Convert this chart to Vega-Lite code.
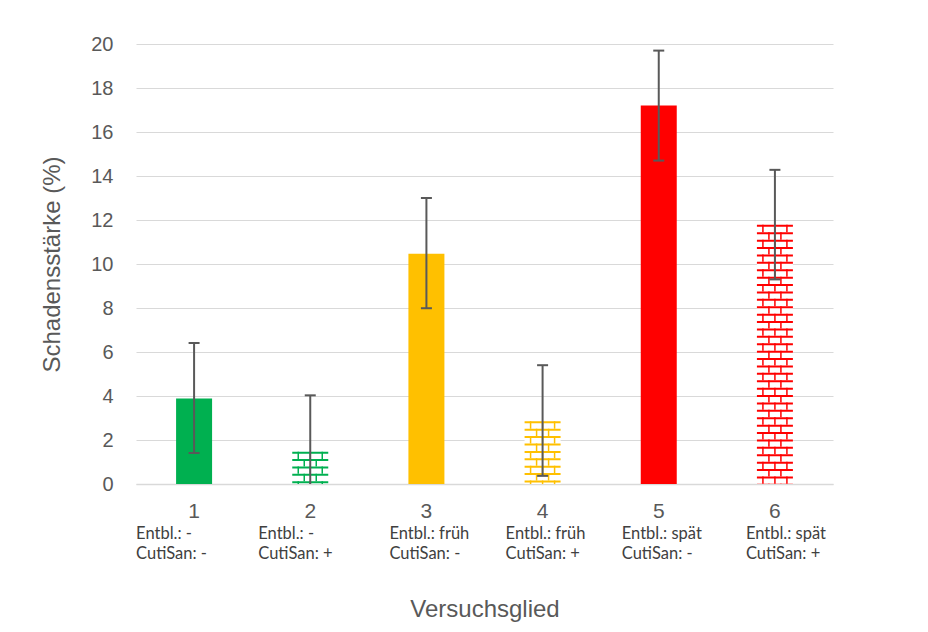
{
  "$schema": "https://vega.github.io/schema/vega-lite/v6.json",
  "width": 697,
  "height": 440,
  "autosize": {"type": "none"},
  "padding": {"left": 136, "top": 44, "right": 95, "bottom": 148},
  "background": "white",
  "config": {
    "view": {"stroke": null},
    "font": "Liberation Sans",
    "axisX": {"grid": false, "labelAngle": 0, "labelOverlap": false, "ticks": false, "tickSize": 0, "labelFlush": false},
    "axisY": {
      "domain": false, "ticks": false, "tickSize": 0, "values": [0, 2, 4, 6, 8, 10, 12, 14, 16, 18, 20],
      "labelFont": "Liberation Sans", "labelFontSize": 20, "labelColor": "#595959", "labelPadding": 23,
      "gridColor": "#d9d9d9", "gridWidth": 1.2,
      "titleFont": "Liberation Sans", "titleFontSize": 24, "titleFontWeight": "normal", "titleColor": "#595959", "titlePadding": 26
    },
    "range": {"category": ["#00B050", "#FFC000", "#FF0000"]}
  },
  "data": {"values": [
    {"nr": 1, "Entbl": "-", "CutiSan": "-", "wert": 3.89, "lo": 1.41, "hi": 6.41},
    {"nr": 2, "Entbl": "-", "CutiSan": "+", "wert": 1.47, "lo": -1.03, "hi": 4.03},
    {"nr": 3, "Entbl": "früh", "CutiSan": "-", "wert": 10.47, "lo": 7.99, "hi": 13.0},
    {"nr": 4, "Entbl": "früh", "CutiSan": "+", "wert": 2.85, "lo": 0.37, "hi": 5.4},
    {"nr": 5, "Entbl": "spät", "CutiSan": "-", "wert": 17.2, "lo": 14.7, "hi": 19.7},
    {"nr": 6, "Entbl": "spät", "CutiSan": "+", "wert": 11.78, "lo": 9.3, "hi": 14.28}
  ]},
  "transform": [
    {"calculate": "datum.nr + '|Entbl.: ' + datum.Entbl + '|CutiSan: ' + datum.CutiSan", "as": "gruppe"}
  ],
  "layer": [
    {
      "mark": {"type": "bar", "size": 36},
      "encoding": {
        "x": {"field": "gruppe", "type": "nominal", "sort": null, "title": null,
          "scale": {"paddingInner": 0, "paddingOuter": 0},
          "axis": {"orient": "bottom", "labelExpr": "split(datum.value, '|')[0]", "labelFont": "Liberation Sans", "labelFontSize": 21, "labelColor": "#595959", "labelPadding": 16, "labelBaseline": "top", "domainColor": "#d9d9d9", "domainWidth": 1.5}},
        "y": {"field": "wert", "type": "quantitative", "title": "Schadensstärke (%)", "scale": {"domain": [0, 20], "nice": false}},
        "fill": {"condition": {"test": "datum.CutiSan == '+'", "value": "white"}, "field": "Entbl", "type": "nominal",
          "scale": {"domain": ["-", "früh", "spät"], "range": ["#00B050", "#FFC000", "#FF0000"]}, "legend": null}
      }
    },
    {
      "transform": [{"filter": "datum.CutiSan == '+'"}],
      "mark": {"type": "rule", "strokeWidth": 36, "strokeDash": [2, 5.4], "strokeCap": "butt"},
      "encoding": {
        "x": {"field": "gruppe", "type": "nominal", "sort": null, "title": null, "axis": null},
        "y": {"field": "wert", "type": "quantitative", "title": "Schadensstärke (%)"},
        "y2": {"datum": 0},
        "color": {"field": "Entbl", "type": "nominal", "legend": null, "scale": {"domain": ["-", "früh", "spät"], "range": ["#00B050", "#FFC000", "#FF0000"]}}
      }
    },
    {
      "transform": [{"filter": "datum.CutiSan == '+'"}],
      "mark": {"type": "rule", "strokeWidth": 1.5, "strokeDash": [7.4, 7.4], "strokeCap": "butt", "xOffset": -12},
      "encoding": {
        "x": {"field": "gruppe", "type": "nominal", "sort": null, "title": null, "axis": null},
        "y": {"field": "wert", "type": "quantitative", "title": "Schadensstärke (%)"},
        "y2": {"datum": 0},
        "color": {"field": "Entbl", "type": "nominal", "legend": null, "scale": {"domain": ["-", "früh", "spät"], "range": ["#00B050", "#FFC000", "#FF0000"]}}
      }
    },
    {
      "transform": [{"filter": "datum.CutiSan == '+'"}],
      "mark": {"type": "rule", "strokeWidth": 1.5, "strokeDash": [7.4, 7.4], "strokeCap": "butt", "xOffset": 0},
      "encoding": {
        "x": {"field": "gruppe", "type": "nominal", "sort": null, "title": null, "axis": null},
        "y": {"field": "wert", "type": "quantitative", "title": "Schadensstärke (%)"},
        "y2": {"datum": 0},
        "color": {"field": "Entbl", "type": "nominal", "legend": null, "scale": {"domain": ["-", "früh", "spät"], "range": ["#00B050", "#FFC000", "#FF0000"]}}
      }
    },
    {
      "transform": [{"filter": "datum.CutiSan == '+'"}],
      "mark": {"type": "rule", "strokeWidth": 1.5, "strokeDash": [7.4, 7.4], "strokeCap": "butt", "xOffset": 12},
      "encoding": {
        "x": {"field": "gruppe", "type": "nominal", "sort": null, "title": null, "axis": null},
        "y": {"field": "wert", "type": "quantitative", "title": "Schadensstärke (%)"},
        "y2": {"datum": 0},
        "color": {"field": "Entbl", "type": "nominal", "legend": null, "scale": {"domain": ["-", "früh", "spät"], "range": ["#00B050", "#FFC000", "#FF0000"]}}
      }
    },
    {
      "transform": [{"filter": "datum.CutiSan == '+'"}],
      "mark": {"type": "rule", "strokeWidth": 1.5, "strokeDash": [7.4, 7.4], "strokeDashOffset": 7.4, "strokeCap": "butt", "xOffset": -6},
      "encoding": {
        "x": {"field": "gruppe", "type": "nominal", "sort": null, "title": null, "axis": null},
        "y": {"field": "wert", "type": "quantitative", "title": "Schadensstärke (%)"},
        "y2": {"datum": 0},
        "color": {"field": "Entbl", "type": "nominal", "legend": null, "scale": {"domain": ["-", "früh", "spät"], "range": ["#00B050", "#FFC000", "#FF0000"]}}
      }
    },
    {
      "transform": [{"filter": "datum.CutiSan == '+'"}],
      "mark": {"type": "rule", "strokeWidth": 1.5, "strokeDash": [7.4, 7.4], "strokeDashOffset": 7.4, "strokeCap": "butt", "xOffset": 6},
      "encoding": {
        "x": {"field": "gruppe", "type": "nominal", "sort": null, "title": null, "axis": null},
        "y": {"field": "wert", "type": "quantitative", "title": "Schadensstärke (%)"},
        "y2": {"datum": 0},
        "color": {"field": "Entbl", "type": "nominal", "legend": null, "scale": {"domain": ["-", "früh", "spät"], "range": ["#00B050", "#FFC000", "#FF0000"]}}
      }
    },
    {
      "mark": {"type": "rule", "strokeWidth": 2, "color": "#595959", "clip": true},
      "encoding": {
        "x": {"field": "gruppe", "type": "nominal", "sort": null, "title": "Versuchsglied",
          "axis": {"orient": "bottom", "domain": false, "labelExpr": "slice(split(datum.value, '|'), 1)",
            "labelFont": "Lato", "labelFontSize": 16.5, "labelColor": "#404040", "labelPadding": 41, "labelBaseline": "top", "labelLineHeight": 20,
            "labelAlign": "left",
            "labelOffset": {"condition": [
              {"test": "indexof(datum.value, '1|') == 0", "value": -58},
              {"test": "indexof(datum.value, '2|') == 0", "value": -52},
              {"test": "indexof(datum.value, '6|') == 0", "value": -29}
            ], "value": -37},
            "titleFont": "Liberation Sans", "titleFontSize": 24, "titleFontWeight": "normal", "titleColor": "#595959", "titlePadding": 36}},
        "y": {"field": "lo", "type": "quantitative", "title": "Schadensstärke (%)"},
        "y2": {"field": "hi"}
      }
    },
    {
      "mark": {"type": "tick", "size": 11, "thickness": 2, "color": "#595959", "opacity": 1, "clip": true},
      "encoding": {
        "x": {"field": "gruppe", "type": "nominal", "sort": null, "title": null, "axis": null},
        "y": {"field": "hi", "type": "quantitative", "title": "Schadensstärke (%)"}
      }
    },
    {
      "mark": {"type": "tick", "size": 11, "thickness": 2, "color": "#595959", "opacity": 1, "clip": true},
      "encoding": {
        "x": {"field": "gruppe", "type": "nominal", "sort": null, "title": null, "axis": null},
        "y": {"field": "lo", "type": "quantitative", "title": "Schadensstärke (%)"}
      }
    }
  ],
  "resolve": {"axis": {"x": "independent"}}
}
